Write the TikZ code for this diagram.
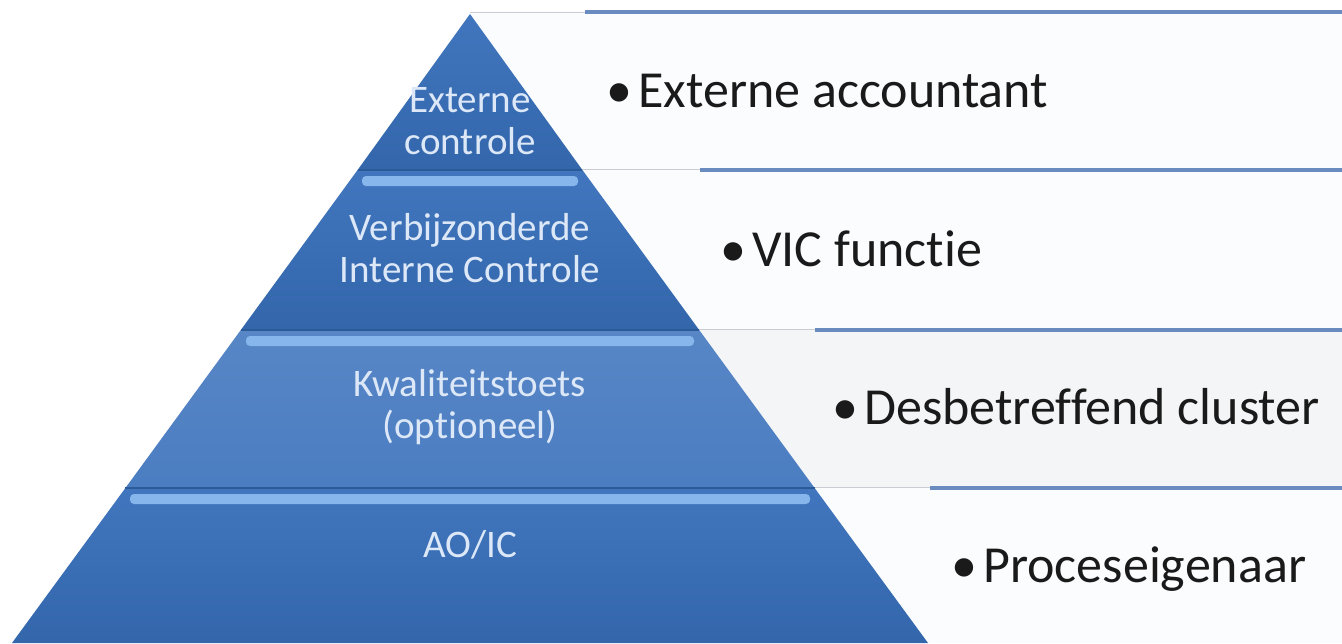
\documentclass[tikz,border=0pt]{standalone}
\usepackage{fontspec}
\setmainfont{Carlito}[Ligatures=NoCommon]
\definecolor{bandfill}{HTML}{FBFCFD}
\definecolor{bandfillB}{HTML}{F4F5F7}
\definecolor{rulebl}{HTML}{6A8BC0}
\definecolor{rulegr}{HTML}{C9CDD3}
\definecolor{pyrtop}{HTML}{4176BE}
\definecolor{pyrbot}{HTML}{3366AB}
\definecolor{pyrline}{HTML}{2B5A98}
\definecolor{hilite}{HTML}{86B6EC}
\definecolor{pyrtext}{HTML}{DCE8F7}
\definecolor{listtext}{HTML}{1A1A1A}
\begin{document}
\begin{tikzpicture}[x=0.5pt,y=-0.5pt]
\tikzset{
  bandbox/.style={fill=bandfill,draw=none},
  bluerule/.style={draw=rulebl,line width=1.6pt},
  greyrule/.style={draw=rulegr,line width=0.5pt},
  layer/.style={top color=pyrtop,bottom color=pyrbot,draw=none},
  sep/.style={draw=pyrline,line width=0.8pt},
  hl/.style={fill=hilite,rounded corners=2pt},
  pyrlabel/.style={text=pyrtext,font=\fontsize{19.5}{21}\selectfont,align=center,inner sep=0pt},
  listlabel/.style={text=listtext,font=\fontsize{26}{30}\selectfont,anchor=base west,inner sep=0pt}
}
\useasboundingbox (0,0) rectangle (1342,643);
\fill[white] (0,0) rectangle (1342,643);
% right bands
\fill[bandbox] (470,12) rectangle (1342,170);
\fill[bandbox] (582,170) rectangle (1342,330);
\fill[bandbox,fill=bandfillB] (699,330) rectangle (1342,488);
\fill[bandbox] (815,488) rectangle (1342,643);
\draw[greyrule] (470,12) -- (585,12);
\draw[bluerule] (585,12) -- (1342,12);
\draw[greyrule] (582,169) -- (700,169);
\draw[bluerule] (700,170) -- (1342,170);
\draw[greyrule] (699,329) -- (815,329);
\draw[bluerule] (815,330) -- (1342,330);
\draw[greyrule] (815,487) -- (930,487);
\draw[bluerule] (930,488) -- (1342,488);
% pyramid layers
\shade[layer] (470,14) -- (582.4,170) -- (357.6,170) -- cycle;
\shade[layer] (357.6,170) -- (582.4,170) -- (699.2,330) -- (240.8,330) -- cycle;
\shade[layer,top color=pyrtop!88!white,bottom color=pyrtop!95!white] (240.8,330) -- (699.2,330) -- (814.6,488) -- (125.4,488) -- cycle;
\shade[layer] (125.4,488) -- (814.6,488) -- (928,643) -- (12,643) -- cycle;
\draw[sep] (357.6,170) -- (582.4,170);
\draw[sep] (240.8,330) -- (699.2,330);
\draw[sep] (125.4,488) -- (814.6,488);
% highlights
\fill[hl] (362,176) rectangle (578,186);
\fill[hl] (246,336) rectangle (694,346);
\fill[hl] (130,494) rectangle (810,504);
% pyramid labels
\node[pyrlabel] (l1) at (470,121) {Externe\\controle};
\node[pyrlabel] (l2) at (470,248) {Verbijzonderde\\Interne Controle};
\node[pyrlabel] (l3) at (470,407) {Kwaliteitstoets\\(optioneel)};
\node[pyrlabel] (l4) at (470,545) {AO/IC};
% list labels
\node[listlabel] (r1) at (606,107) {\textbullet\hspace{3pt}Externe accountant};
\node[listlabel] (r2) at (720,266) {\textbullet\hspace{3pt}VIC functie};
\node[listlabel] (r3) at (832,424) {\textbullet\hspace{3pt}Desbetreffend cluster};
\node[listlabel] (r4) at (951,582) {\textbullet\hspace{3pt}Proceseigenaar};
\end{tikzpicture}
\end{document}
